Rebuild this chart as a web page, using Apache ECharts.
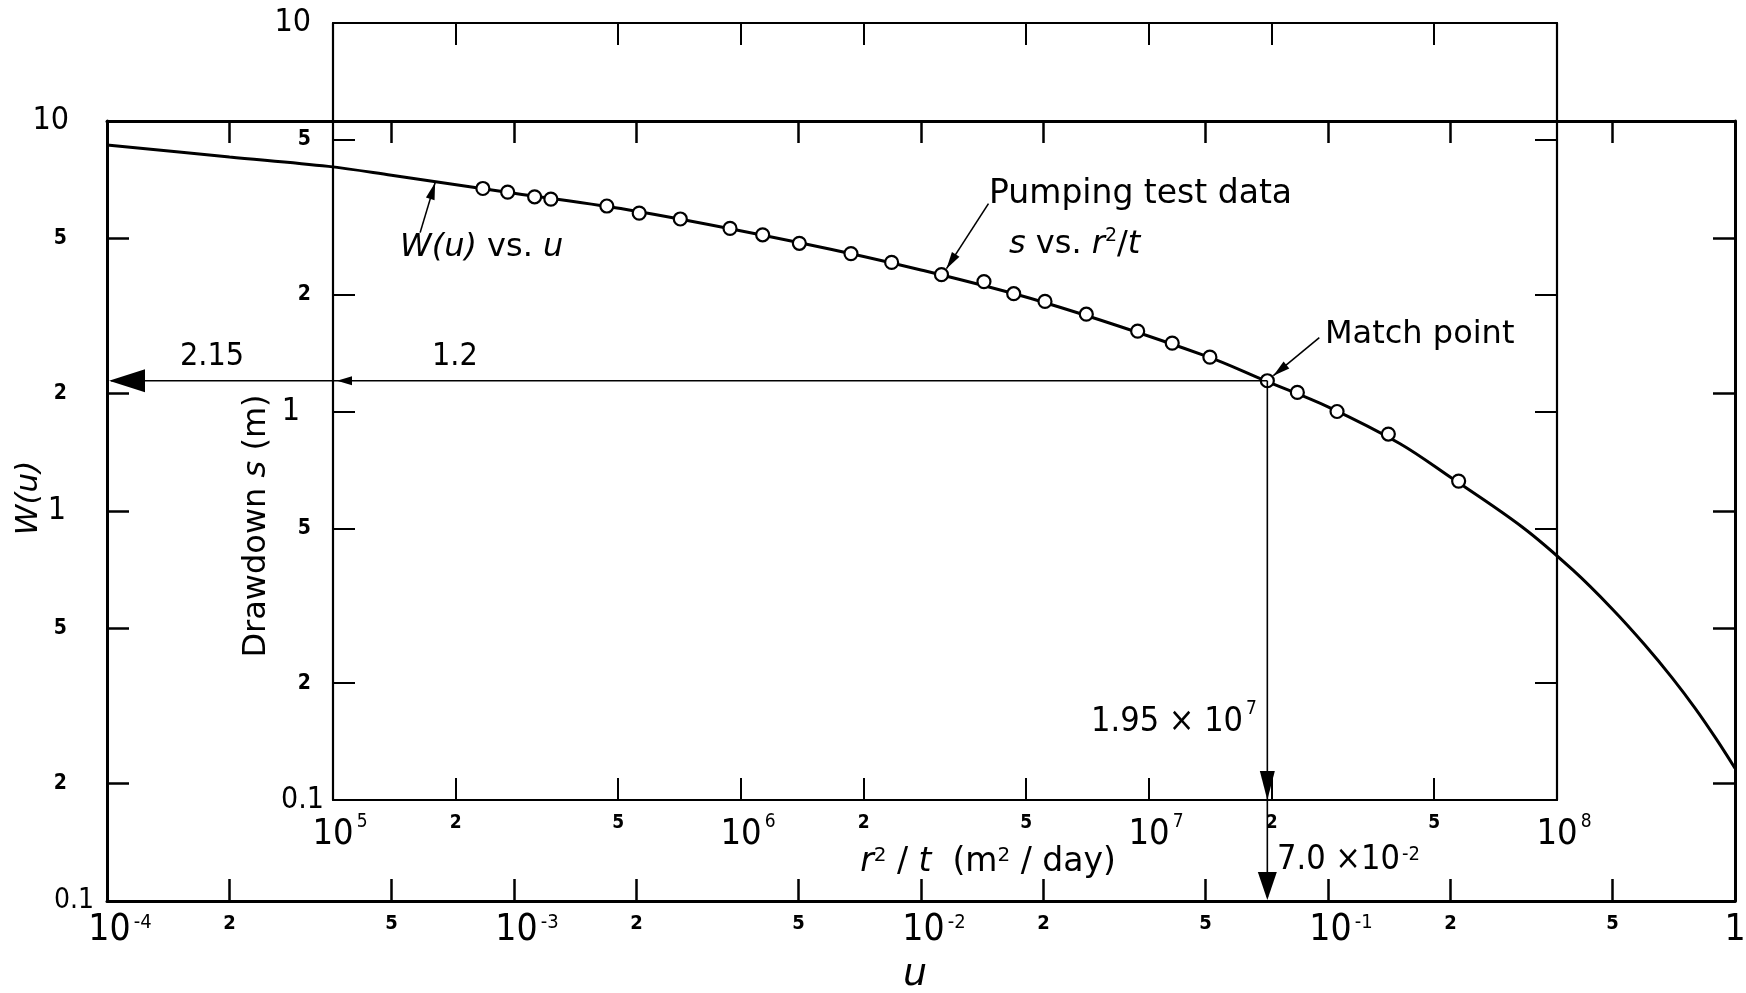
<!DOCTYPE html>
<html><head><meta charset="utf-8">
<script src="https://cdn.jsdelivr.net/npm/echarts@6/dist/echarts.min.js"></script>
<style>html,body{margin:0;padding:0;background:#fff}#c{width:1746px;height:993px}</style>
</head><body><div id="c"></div>
<script>
// ---- Theis type curve W(u) vs u ----
const uValues = [1e-4, 2e-4, 3.5e-4, 5e-4, 1e-3, 2e-3, 5e-3, 1e-2, 2e-2, 5e-2, 7e-2, 0.1, 0.15, 0.2, 0.3, 0.4, 0.5, 0.6, 0.7, 0.8, 0.9, 1.0];
const wValues = [8.68, 8.09, 7.65, 7.26, 6.53, 5.87, 4.88, 4.15, 3.43, 2.50, 2.16, 1.85, 1.49, 1.22, 0.91, 0.705, 0.56, 0.454, 0.374, 0.311, 0.260, 0.219];
// ---- Pumping test data s vs r^2/t ----
const r2tValues = [2.33e5, 2.68e5, 3.12e5, 3.42e5, 4.69e5, 5.63e5, 7.10e5, 9.40e5, 1.13e6, 1.39e6, 1.86e6, 2.34e6, 3.10e6, 3.94e6, 4.66e6, 5.56e6, 7.02e6, 9.38e6, 1.14e7, 1.41e7, 1.95e7, 2.31e7, 2.89e7, 3.86e7, 5.74e7];
const sValues = [3.75, 3.67, 3.57, 3.52, 3.38, 3.24, 3.13, 2.96, 2.85, 2.71, 2.55, 2.42, 2.25, 2.16, 2.01, 1.92, 1.78, 1.61, 1.50, 1.38, 1.20, 1.12, 1.00, 0.875, 0.662];
// ---- Match point ----
const matchR2t = 1.95e7, matchS = 1.2, matchU = 7.0e-2, matchW = 2.15;
// ---- Tick values and labels ----
const uTicks = [1e-4, 2e-4, 5e-4, 1e-3, 2e-3, 5e-3, 1e-2, 2e-2, 5e-2, 1e-1, 2e-1, 5e-1, 1];
const uTickLabels = ['10^-4', '2', '5', '10^-3', '2', '5', '10^-2', '2', '5', '10^-1', '2', '5', '1'];
const wTicks = [0.1, 0.2, 0.5, 1, 2, 5, 10];
const wTickLabels = ['0.1', '2', '5', '1', '2', '5', '10'];
const rTicks = [1e5, 2e5, 5e5, 1e6, 2e6, 5e6, 1e7, 2e7, 5e7, 1e8];
const rTickLabels = ['10^5', '2', '5', '10^6', '2', '5', '10^7', '2', '5', '10^8'];
const sTicks = [0.1, 0.2, 0.5, 1, 2, 5, 10];
const sTickLabels = ['0.1', '2', '5', '1', '2', '5', '10'];

const L = Math.log10;
const NUM = "'DejaVu Sans Condensed','Liberation Sans Narrow','DejaVu Sans',sans-serif";
const TXT = "'DejaVu Sans','Liberation Sans',sans-serif";

function findLabel(ticks, labels, v) {
  for (let i = 0; i < ticks.length; i++) if (Math.abs(L(ticks[i]) - v) < 1e-6) return labels[i];
  return '';
}
function bottomFmt(ticks, labels) {
  return function (v) {
    const s = findLabel(ticks, labels, v);
    if (s.indexOf('^') >= 0) { const p = s.split('^'); return '{b|' + p[0] + '}{s|' + p[1] + '}'; }
    if (s === '2' || s === '5') return '{m|' + s + '}';
    return '{c|' + s + '}';
  };
}
function leftFmt(ticks, labels) {
  return function (v) {
    const s = findLabel(ticks, labels, v);
    if (s === '0.1') return '{z|0.1}';
    if (s === '1') return '{o|1}';
    if (s === '10') return '{t|10}';
    return '{m|' + s + '}';
  };
}
const black = '#000';
function lineStyle(w) { return { show: true, onZero: false, lineStyle: { color: black, width: w } }; }
function tick(vals, w) { return { show: true, inside: true, length: 22, customValues: vals, lineStyle: { color: black, width: w } }; }

const uT = uTicks.map(L), wT = wTicks.map(L), rT = rTicks.map(L), sT = sTicks.map(L);

const option = {
  animation: false,
  backgroundColor: '#fff',
  grid: [
    { left: 107, top: 121, width: 1628, height: 780, containLabel: false, outerBoundsMode: 'none' },
    { left: 333, top: 23, width: 1224, height: 777, containLabel: false, outerBoundsMode: 'none' }
  ],
  xAxis: [
    { type: 'value', gridIndex: 0, position: 'bottom', min: -4, max: 0,
      axisLine: lineStyle(3), axisTick: tick(uT, 2.5), splitLine: { show: false },
      axisLabel: { show: true, customValues: uT, margin: 12, color: black, formatter: bottomFmt(uTicks, uTickLabels),
        rich: {
          b: { fontFamily: NUM, fontSize: 37, lineHeight: 34, color: black, padding: [0, 0, 0, 26] },
          s: { fontFamily: NUM, fontSize: 20, lineHeight: 20, verticalAlign: 'top', color: black, padding: [0, 0, 0, 3] },
          m: { fontFamily: NUM, fontSize: 20, fontWeight: 'bold', lineHeight: 21, color: black },
          c: { fontFamily: NUM, fontSize: 37, lineHeight: 34, color: black }
        } },
      name: 'u', nameLocation: 'middle', nameGap: 55, nameMoveOverlap: false,
      nameTextStyle: { fontFamily: TXT, fontSize: 38, fontStyle: 'italic', color: black, lineHeight: 38, padding: [0, 12, 0, 0] } },
    { type: 'value', gridIndex: 0, position: 'top', min: -4, max: 0,
      axisLine: lineStyle(3), axisTick: tick(uT, 2.5), axisLabel: { show: false }, splitLine: { show: false } },
    { type: 'value', gridIndex: 1, position: 'bottom', min: 5, max: 8,
      axisLine: lineStyle(2.2), axisTick: tick(rT, 2), splitLine: { show: false },
      axisLabel: { show: true, customValues: rT, margin: 13, color: black, formatter: bottomFmt(rTicks, rTickLabels),
        rich: {
          b: { fontFamily: NUM, fontSize: 36, lineHeight: 43, color: black, padding: [0, 0, 0, 14] },
          s: { fontFamily: NUM, fontSize: 19, lineHeight: 19, verticalAlign: 'top', color: black, padding: [0, 0, 0, 3] },
          m: { fontFamily: NUM, fontSize: 19, fontWeight: 'bold', lineHeight: 20, color: black },
          c: { fontFamily: NUM, fontSize: 36, lineHeight: 43, color: black }
        } },
      name: '{i|r}{sup|2}{n| / }{i|t}{n|  (m}{sup|2}{n| / day)}', nameLocation: 'middle', nameGap: 46, nameMoveOverlap: false,
      nameTextStyle: { color: black, fontFamily: TXT, fontSize: 33, lineHeight: 32, padding: [0, 0, 0, 86],
        rich: {
          i: { fontFamily: TXT, fontSize: 33, fontStyle: 'italic', color: black, lineHeight: 32 },
          n: { fontFamily: TXT, fontSize: 33, color: black, lineHeight: 32 },
          sup: { fontFamily: TXT, fontSize: 20, color: black, verticalAlign: 'top', lineHeight: 18 }
        } } },
    { type: 'value', gridIndex: 1, position: 'top', min: 5, max: 8,
      axisLine: lineStyle(2.2), axisTick: tick(rT, 2), axisLabel: { show: false }, splitLine: { show: false } }
  ],
  yAxis: [
    { type: 'value', gridIndex: 0, position: 'left', min: -1, max: 1,
      axisLine: lineStyle(3), axisTick: tick(wT, 2.5), splitLine: { show: false },
      axisLabel: { show: true, customValues: wT, margin: 13, color: black, formatter: leftFmt(wTicks, wTickLabels),
        rich: {
          z: { fontFamily: NUM, fontSize: 28, color: black },
          t: { fontFamily: NUM, fontSize: 32, color: black, padding: [0, 25, 0, 0] },
          o: { fontFamily: NUM, fontSize: 32, color: black, padding: [0, 28, 0, 0] },
          m: { fontFamily: NUM, fontSize: 21, fontWeight: 'bold', color: black, padding: [0, 27, 0, 0] }
        } },
      name: 'W(u)', nameLocation: 'middle', nameGap: 63, nameMoveOverlap: false,
      nameTextStyle: { fontFamily: TXT, fontSize: 31, fontStyle: 'italic', color: black, padding: [0, 0, 0, 26] } },
    { type: 'value', gridIndex: 0, position: 'right', min: -1, max: 1,
      axisLine: lineStyle(3), axisTick: tick(wT, 2.5), axisLabel: { show: false }, splitLine: { show: false } },
    { type: 'value', gridIndex: 1, position: 'left', min: -1, max: 1,
      axisLine: lineStyle(2.2), axisTick: tick(sT, 2), splitLine: { show: false },
      axisLabel: { show: true, customValues: sT, margin: 9, color: black, formatter: leftFmt(sTicks, sTickLabels),
        rich: {
          z: { fontFamily: NUM, fontSize: 30, color: black },
          t: { fontFamily: NUM, fontSize: 32, color: black, padding: [0, 13, 0, 0] },
          o: { fontFamily: NUM, fontSize: 32, color: black, padding: [0, 24, 0, 0] },
          m: { fontFamily: NUM, fontSize: 21, fontWeight: 'bold', color: black, padding: [0, 13, 0, 0] }
        } },
      name: '{n|Drawdown }{i|s}{n| (m)}', nameLocation: 'middle', nameGap: 60, nameMoveOverlap: false,
      nameTextStyle: { color: black, fontFamily: TXT, fontSize: 32, padding: [0, 229, 0, 0],
        rich: {
          n: { fontFamily: TXT, fontSize: 32, color: black },
          i: { fontFamily: TXT, fontSize: 32, fontStyle: 'italic', color: black }
        } } },
    { type: 'value', gridIndex: 1, position: 'right', min: -1, max: 1,
      axisLine: lineStyle(2.2), axisTick: tick(sT, 2), axisLabel: { show: false }, splitLine: { show: false } }
  ],
  series: [
    { name: 'W(u) vs. u', type: 'line', xAxisIndex: 0, yAxisIndex: 0,
      data: uValues.map((u, i) => [L(u), L(wValues[i])]),
      showSymbol: false, symbol: 'none', smooth: 0.35,
      lineStyle: { color: black, width: 3 }, z: 3, silent: true },
    { name: 'Pumping test data', type: 'scatter', xAxisIndex: 2, yAxisIndex: 2,
      data: r2tValues.map((r, i) => [L(r), L(sValues[i])]),
      symbol: 'circle', symbolSize: 13,
      itemStyle: { color: '#fff', opacity: 1, borderColor: black, borderWidth: 2.2 }, z: 6, silent: true }
  ]
};

const chart = echarts.init(document.getElementById('c'));
chart.setOption(option);

const p0 = (x, y) => chart.convertToPixel({ xAxisIndex: 0, yAxisIndex: 0 }, [x, y]);
const p1 = (x, y) => chart.convertToPixel({ xAxisIndex: 2, yAxisIndex: 2 }, [x, y]);

function head(tip, tail, len, hw) {
  const dx = tip[0] - tail[0], dy = tip[1] - tail[1];
  const d = Math.sqrt(dx * dx + dy * dy) || 1;
  const ux = dx / d, uy = dy / d;
  const bx = tip[0] - ux * len, by = tip[1] - uy * len;
  return { type: 'polygon', z: 100, shape: { points: [tip, [bx - uy * hw, by + ux * hw], [bx + uy * hw, by - ux * hw]] }, style: { fill: black } };
}
function seg(a, b, w) {
  return { type: 'line', z: 99, shape: { x1: a[0], y1: a[1], x2: b[0], y2: b[1] }, style: { stroke: black, lineWidth: w } };
}
function txt(x, y, text, size, family, rich, extra) {
  const st = Object.assign({ x: x, y: y, text: text, fill: black, fontSize: size, fontFamily: family,
    align: 'left', textAlign: 'left', verticalAlign: 'middle', textVerticalAlign: 'middle' }, extra || {});
  if (rich) st.rich = rich;
  return { type: 'text', z: 100, style: st };
}

const mI = p1(L(matchR2t), L(matchS));
const lo = p0(-4, L(matchW));
const li = p1(5, L(matchS));
const bo = p0(L(matchU), -1);
const bi = p1(L(matchR2t), -1);
const y0 = mI[1], x0 = mI[0];

const els = [];
// match lines
els.push(seg([x0, y0], [lo[0] + 4, y0], 1.6));
els.push(seg([x0, y0], [x0, bo[1] - 4], 1.6));
// arrowheads on axes
els.push(head([lo[0] + 2, y0], [lo[0] + 100, y0], 36, 11.5));
els.push(head([li[0] + 4, y0], [li[0] + 100, y0], 15, 4.5));
els.push(head([x0, bi[1]], [x0, bi[1] - 100], 29, 7.5));
els.push(head([x0, bo[1] - 1], [x0, bo[1] - 100], 28, 9.5));
// leader arrows
const tW = p0(L(6.4e-4), L(6.95));
const tailW = [tW[0] - 15, tW[1] + 50];
els.push(seg(tailW, tW, 1.6)); els.push(head(tW, tailW, 17, 4.5));
const c13 = p1(L(r2tValues[12]), L(sValues[12]));
const tP = [c13[0] + 5, c13[1] - 6];
const tailP = [tP[0] + 42, tP[1] - 65];
els.push(seg(tailP, tP, 1.6)); els.push(head(tP, tailP, 17, 4.5));
const tM = [x0 + 6, y0 - 5];
const tailM = [tM[0] + 46, tM[1] - 38];
els.push(seg(tailM, tM, 1.6)); els.push(head(tM, tailM, 17, 4.5));

// text annotations
els.push(txt(180, 357, '2.15', 32, NUM));
els.push(txt(432, 357, '1.2', 32, NUM));
els.push(txt(400, 248, '{i|W(u)}{n| vs. }{i|u}', 32, TXT, {
  i: { fontFamily: TXT, fontSize: 32, fontStyle: 'italic', fill: black, color: black },
  n: { fontFamily: TXT, fontSize: 32, fill: black, color: black } }));
els.push(txt(989, 194, 'Pumping test data', 33, TXT));
els.push(txt(1009, 245, '{i|s}{n| vs. }{i|r}{sup|2}{n|/}{i|t}', 32, TXT, {
  i: { fontFamily: TXT, fontSize: 32, fontStyle: 'italic', color: black, lineHeight: 36 },
  n: { fontFamily: TXT, fontSize: 32, color: black, lineHeight: 36 },
  sup: { fontFamily: TXT, fontSize: 19, color: black, verticalAlign: 'top', lineHeight: 18 } }));
els.push(txt(1325, 335, 'Match point', 32, TXT));
els.push(txt(1091, 722.5, '{b|1.95 × 10}{s|7}', 34, NUM, {
  b: { fontFamily: NUM, fontSize: 34, color: black, lineHeight: 45 },
  s: { fontFamily: NUM, fontSize: 19, color: black, lineHeight: 18, verticalAlign: 'top', padding: [0, 0, 0, 3] } }));
els.push(txt(1277, 860.5, '{b|7.0 ×10}{s|-2}', 34, NUM, {
  b: { fontFamily: NUM, fontSize: 34, color: black, lineHeight: 31 },
  s: { fontFamily: NUM, fontSize: 20, color: black, lineHeight: 18, verticalAlign: 'top', padding: [0, 0, 0, 2] } }));

chart.setOption({ graphic: els });
</script>
</body></html>
